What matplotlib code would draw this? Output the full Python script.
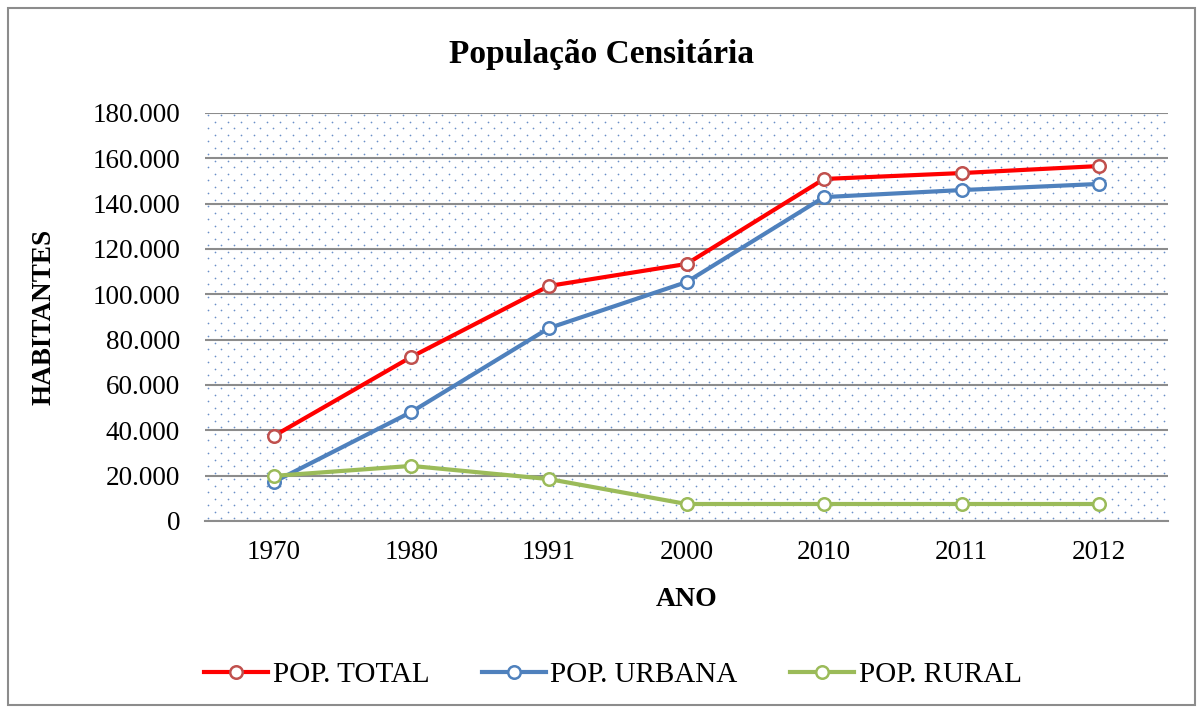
import numpy as np
import matplotlib
matplotlib.use("Agg")
from matplotlib import pyplot as plt
from matplotlib.patches import Rectangle
from matplotlib.ticker import FuncFormatter

# data
anos = ["1970", "1980", "1991", "2000", "2010", "2011", "2012"]
pop_total = [37500, 72400, 103700, 113400, 150900, 153500, 156600]
pop_urbana = [17200, 48100, 85100, 105400, 142900, 146000, 148700]
pop_rural = [19900, 24300, 18500, 7500, 7500, 7500, 7500]

plt.rcParams['font.family'] = ['Liberation Serif', 'DejaVu Serif']

fig = plt.figure(figsize=(12.03, 7.13), dpi=100)
ax = fig.add_axes([205 / 1203, 1 - 521 / 713, 963 / 1203, 408 / 713])

# outer chart border
fig.patches.append(Rectangle((8 / 1203, 8 / 713), 1187 / 1203, 697 / 713,
                             transform=fig.transFigure, fill=False,
                             edgecolor='#8c8c8c', linewidth=1.5))

# dotted background pattern
xs, ys = [], []
for j, yy in enumerate(np.arange(3, 408, 6.5)):
    off = 0 if j % 2 == 0 else 6.5
    for xx in np.arange(off + 3, 963, 13):
        xs.append(xx / 963)
        ys.append(yy / 408)
ax.scatter(xs, ys, s=1.5, color='#6a8fc8', transform=ax.transAxes,
           linewidths=0, zorder=0)

x = np.arange(len(anos))
series = [
    (pop_total, '#ff0000', '#c0504d', 'POP. TOTAL'),
    (pop_urbana, '#4f81bd', '#4f81bd', 'POP. URBANA'),
    (pop_rural, '#9bbb59', '#9bbb59', 'POP. RURAL'),
]
for vals, col, edge, lab in series:
    ax.plot(x, vals, color=col, linewidth=3, marker='o', markersize=9,
            markerfacecolor='white', markeredgecolor=edge,
            markeredgewidth=1.8, label=lab, zorder=3)

ax.set_xlim(-0.5, len(anos) - 0.5)
ax.set_ylim(0, 180000)
ax.set_yticks(np.arange(0, 180001, 20000))
ax.yaxis.set_major_formatter(FuncFormatter(
    lambda v, p: '0' if v == 0 else f"{int(v):,}".replace(',', '.')))
ax.set_xticks(x)
ax.set_xticklabels(anos)
ax.grid(axis='y', color='#8c8c8c', linewidth=1.5, zorder=1)
ax.set_axisbelow(True)
for s in ['top', 'right', 'left']:
    ax.spines[s].set_visible(False)
ax.spines['bottom'].set_color('#8c8c8c')
ax.spines['bottom'].set_linewidth(1.5)
ax.tick_params(axis='both', length=0, labelsize=19.5)
ax.tick_params(axis='y', pad=18)
ax.tick_params(axis='x', pad=14)

ax.set_xlabel('ANO', fontsize=20, fontweight='bold')
ax.xaxis.set_label_coords(0.5, -0.162)
ax.set_ylabel('HABITANTES', fontsize=19.5, fontweight='bold')
ax.yaxis.set_label_coords(-0.154, 0.5)
fig.text(0.5, 1 - 55 / 713, 'População Censitária', ha='center', va='center',
         fontsize=24, fontweight='bold')

fig.legend(loc='center', bbox_to_anchor=(613 / 1203, 1 - 675 / 713), ncol=3,
           frameon=False, fontsize=21, handlelength=2.2, handletextpad=0.15,
           columnspacing=1.8)

fig.savefig('out.png', dpi=100)
